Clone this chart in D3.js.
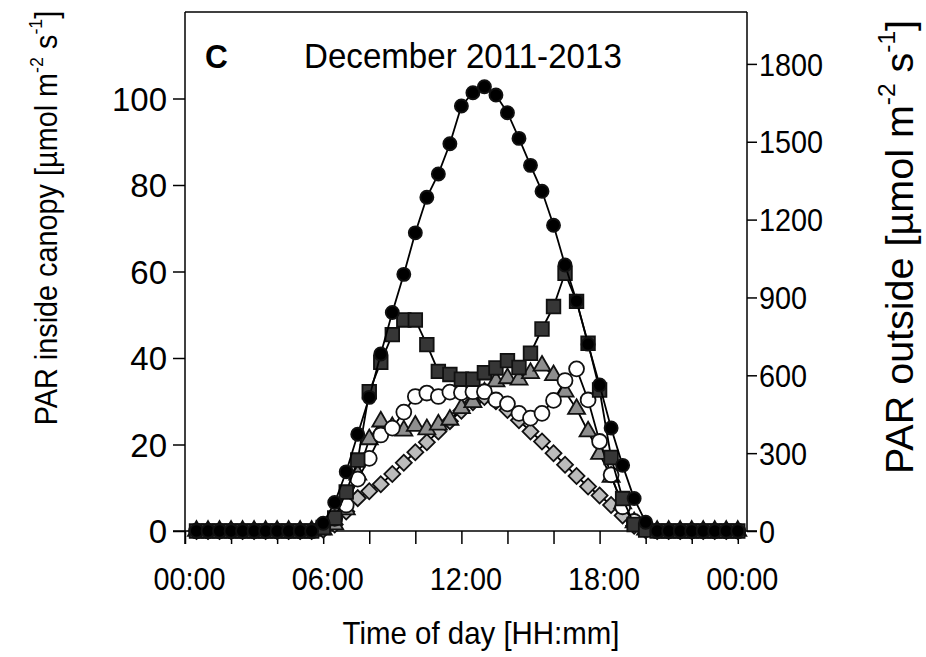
<!DOCTYPE html>
<html>
<head>
<meta charset="utf-8">
<script src="https://cdn.jsdelivr.net/npm/d3@7"></script>
<style>
  body { margin: 0; background: #fff; }
  text { font-family: "Liberation Sans", Arial, sans-serif; fill: #000; }
</style>
</head>
<body>
<svg id="chart" width="926" height="657"></svg>
<script>
// time of day in hours (30 min steps)
const hours = [0.5, 1, 1.5, 2, 2.5, 3, 3.5, 4, 4.5, 5, 5.5, 6, 6.5, 7, 7.5, 8,
  8.5, 9, 9.5, 10, 10.5, 11, 11.5, 12, 12.5, 13, 13.5, 14, 14.5, 15, 15.5, 16,
  16.5, 17, 17.5, 18, 18.5, 19, 19.5, 20, 20.5, 21, 21.5, 22, 22.5, 23, 23.5, 24];

// PAR outside (right axis)
const parOutside = [0, 0, 0, 0, 0, 0, 0, 0, 0, 0, 0,
  30, 110, 228, 373, 515, 682, 842, 989, 1149, 1286, 1376, 1492, 1638, 1689, 1712,
  1680, 1612, 1513, 1409, 1309, 1178, 1025, 886, 720, 563, 397, 253, 125, 34,
  0, 0, 0, 0, 0, 0, 0, 0];

// PAR inside canopy (left axis)
const darkSquares = [0, 0, 0, 0, 0, 0, 0, 0, 0, 0, 0,
  0.8, 3, 9, 16.4, 32.2, 39.0, 45.4, 48.8, 48.8, 43.1, 36.9, 36.2, 35.1, 35.1, 36.6,
  37.7, 39.4, 37.8, 41.1, 46.7, 51.9, 59.6, 53.1, 43.4, 32.6, 17.0, 7.5, 1.5, 0.2,
  0, 0, 0, 0, 0, 0, 0, 0];

const whiteCircles = [0, 0, 0, 0, 0, 0, 0, 0, 0, 0, 0,
  1.4, 2.9, 6.0, 12.0, 16.8, 22.2, 23.8, 27.5, 31.1, 31.9, 31.1, 32.1, 32.0, 32.2, 32.2,
  30.3, 29.4, 27.2, 26.1, 27.2, 30.2, 34.8, 37.5, 30.3, 20.7, 13.0, 5.6, 2.2, 0.6,
  0, 0, 0, 0, 0, 0, 0, 0];

const grayTriangles = [0, 0, 0, 0, 0, 0, 0, 0, 0, 0, 0,
  0.3, 1.5, 5, 13, 21.2, 25.3, 24.0, 23.2, 24.3, 23.5, 24.6, 25.7, 28.4, 29.8, 32.0,
  34.6, 35.3, 35.0, 36.5, 38.2, 36.0, 32.2, 28.2, 23.0, 17.8, 12.5, 6.4, 2.0, 0.3,
  0, 0, 0, 0, 0, 0, 0, 0];

const lightDiamonds = [0, 0, 0, 0, 0, 0, 0, 0, 0, 0, 0,
  0.3, 1.5, 4.5, 7.6, 9.2, 10.8, 13.2, 15.8, 18.2, 20.5, 23.0, 25.4, 27.8, 29.8, 31.0,
  30.0, 28.0, 25.6, 23.0, 20.7, 18.0, 15.3, 12.7, 10.3, 8.2, 6.0, 3.6, 1.2, 0.2,
  0, 0, 0, 0, 0, 0, 0, 0];

const xTickHours = [0, 2, 4, 6, 8, 10, 12, 14, 16, 18, 20, 22, 24];
const xTickLabels = { 0: "00:00", 6: "06:00", 12: "12:00", 18: "18:00", 24: "00:00" };
const leftTicks = [0, 20, 40, 60, 80, 100];
const rightTicks = [0, 300, 600, 900, 1200, 1500, 1800];

const svg = d3.select("#chart");
const plotLeft = 185, plotRight = 747, plotTop = 12, plotBottom = 531;

const x = d3.scaleLinear().domain([0, 24.4]).range([plotLeft, plotRight]);
const yIn = d3.scaleLinear().domain([0, 120]).range([plotBottom, plotTop]);
const yOut = d3.scaleLinear().domain([0, 2000]).range([plotBottom, plotTop]);

// the original font is a little narrower than Arial
const squeeze = 0.93;

// frame top
svg.append("line")
  .attr("x1", plotLeft).attr("x2", plotRight).attr("y1", plotTop).attr("y2", plotTop)
  .attr("stroke", "#000").attr("stroke-width", 1.5);

// x axis
const xAxis = svg.append("g")
  .attr("transform", `translate(0,${plotBottom})`)
  .call(d3.axisBottom(x).tickValues(xTickHours).tickSize(13)
    .tickFormat((d) => xTickLabels[d] || ""))
  .call((g) => g.select(".domain").remove());
xAxis.selectAll("line").attr("stroke", "#000").attr("stroke-width", 1.5);
xAxis.selectAll("text")
  .attr("font-size", 31)
  .attr("y", 0)
  .attr("dy", 0)
  .attr("transform", `translate(4,59) scale(${squeeze},1)`);

// baseline extends out to both tick marks at zero
svg.append("line")
  .attr("x1", plotLeft - 12).attr("x2", plotRight + 10)
  .attr("y1", yIn(0)).attr("y2", yIn(0))
  .attr("stroke", "#000").attr("stroke-width", 1.5);

// left axis
const yAxisL = svg.append("g")
  .attr("transform", `translate(${plotLeft},0)`)
  .call(d3.axisLeft(yIn).tickValues(leftTicks).tickSize(12).tickFormat(d3.format("d")));
yAxisL.select(".domain").attr("d", `M0,${plotTop}V${plotBottom + 13}`)
  .attr("stroke", "#000").attr("stroke-width", 1.5);
yAxisL.selectAll("line").attr("stroke", "#000").attr("stroke-width", 1.5);
yAxisL.selectAll("text")
  .attr("font-size", 33)
  .attr("dy", "0.36em")
  .attr("x", -18);

// right axis
const yAxisR = svg.append("g")
  .attr("transform", `translate(${plotRight},0)`)
  .call(d3.axisRight(yOut).tickValues(rightTicks).tickSize(10).tickFormat(d3.format("d")));
yAxisR.select(".domain").attr("d", `M0,${plotTop}V${plotBottom}`)
  .attr("stroke", "#000").attr("stroke-width", 1.5);
yAxisR.selectAll("line").attr("stroke", "#000").attr("stroke-width", 1.5);
yAxisR.selectAll("text")
  .attr("font-size", 31)
  .attr("dy", "0.36em")
  .attr("x", 12 / squeeze)
  .attr("transform", `scale(${squeeze},1)`);

// series, drawn back to front
const series = [
  { values: lightDiamonds, scale: yIn, type: d3.symbolSquare, size: 128, rotate: 45, fill: "#bcbcbc" },
  { values: grayTriangles, scale: yIn, type: d3.symbolTriangle, size: 126, rotate: 0, fill: "#8e8e8e" },
  { values: whiteCircles, scale: yIn, type: d3.symbolCircle, size: 175, rotate: 0, fill: "#ffffff" },
  { values: darkSquares, scale: yIn, type: d3.symbolSquare, size: 185, rotate: 0, fill: "#363636" },
  { values: parOutside, scale: yOut, type: d3.symbolCircle, size: 135, rotate: 0, fill: "#000000" },
];

const plot = svg.append("g");
for (let s of series) {
  const pts = hours.map((h, i) => [x(h), s.scale(s.values[i])]);
  plot.append("path")
    .datum(pts)
    .attr("d", d3.line())
    .attr("fill", "none")
    .attr("stroke", "#000")
    .attr("stroke-width", 1.8);
  plot.append("g")
    .selectAll("path")
    .data(pts)
    .join("path")
    .attr("d", d3.symbol().type(s.type).size(s.size))
    .attr("transform", (d) => `translate(${d[0]},${d[1]}) rotate(${s.rotate})`)
    .attr("fill", s.fill)
    .attr("stroke", "#111")
    .attr("stroke-width", 1.8);
}

// panel letter and title
svg.append("text")
  .attr("transform", `translate(205,68) scale(${squeeze},1)`)
  .attr("font-size", 34).attr("font-weight", "bold")
  .text("C");
svg.append("text")
  .attr("transform", `translate(304,68) scale(0.92,1)`)
  .attr("font-size", 36)
  .text("December 2011-2013");

// axis titles
function unitTitle(sel, label) {
  sel.append("tspan").text(label + " [\u00b5mol m");
  sel.append("tspan").attr("font-size", "0.62em").attr("dy", "-0.75em").text("-2");
  sel.append("tspan").attr("dy", "0.46em").text(" s");
  sel.append("tspan").attr("font-size", "0.62em").attr("dy", "-0.75em").text("-1");
  sel.append("tspan").attr("dy", "0.46em").text("]");
}

svg.append("text")
  .attr("transform", `translate(57,218) rotate(-90) scale(${squeeze},1)`)
  .attr("text-anchor", "middle")
  .attr("font-size", 31)
  .call(unitTitle, "PAR inside canopy");

svg.append("text")
  .attr("transform", `translate(913,247) rotate(-90) scale(1.04,1)`)
  .attr("text-anchor", "middle")
  .attr("font-size", 38)
  .call(unitTitle, "PAR outside");

svg.append("text")
  .attr("transform", `translate(481,644) scale(0.92,1)`)
  .attr("text-anchor", "middle")
  .attr("font-size", 32)
  .text("Time of day [HH:mm]");
</script>
</body>
</html>
